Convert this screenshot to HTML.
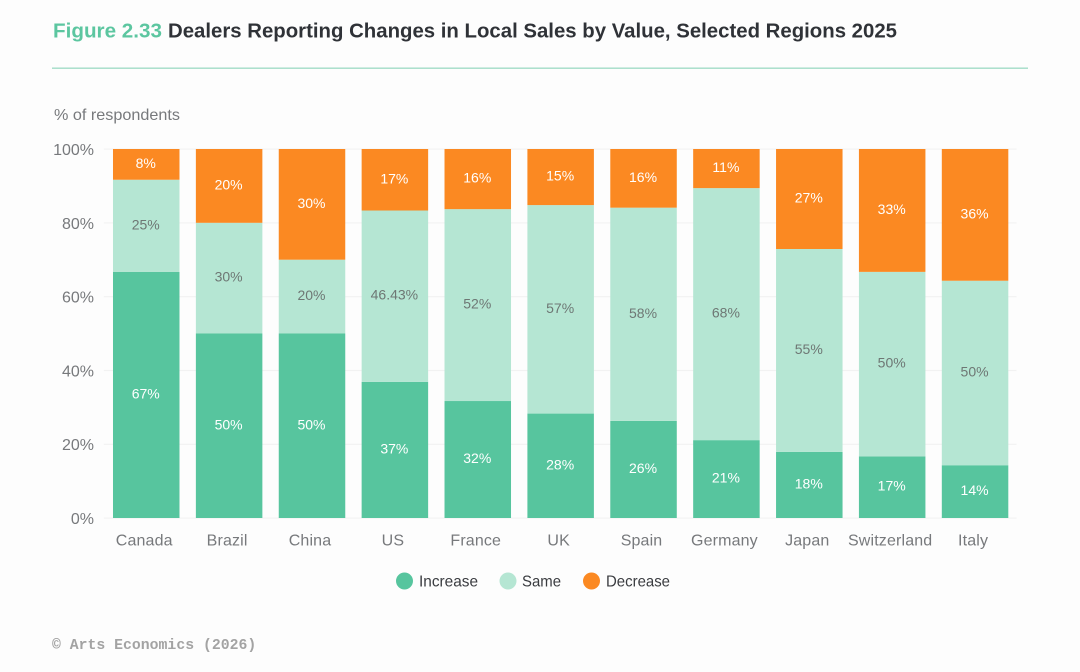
<!DOCTYPE html>
<html lang="en">
<head>
<meta charset="utf-8">
<title>Figure 2.33 Dealers Reporting Changes in Local Sales by Value</title>
<style>
html,body{margin:0;padding:0;background:#fdfdfd;}
svg{display:block;font-family:"Liberation Sans",sans-serif;}
</style>
</head>
<body>
<svg id="chart" width="1080" height="672" viewBox="0 0 1080 672" xmlns="http://www.w3.org/2000/svg">
  <rect x="0" y="0" width="1080" height="672" fill="#fdfdfd"/>
  <text x="53" y="37.5" font-size="20" font-weight="700" fill="#5cc6a0" textLength="109" lengthAdjust="spacingAndGlyphs">Figure 2.33</text>
  <text x="168" y="37.5" font-size="20" font-weight="700" fill="#2f3237" textLength="729" lengthAdjust="spacingAndGlyphs">Dealers Reporting Changes in Local Sales by Value, Selected Regions 2025</text>
  <rect x="52" y="67.5" width="976" height="1.4" fill="#a3dcc8"/>
  <text x="54" y="120" font-size="16" fill="#77797c" textLength="126" lengthAdjust="spacingAndGlyphs">% of respondents</text>
  <g id="grid"></g>
  <g id="bars"></g>
  <g id="ylabels"></g>
  <g id="xlabels"></g>
  <g>
    <g>
      <circle cx="404.5" cy="581" r="8.5" fill="#57c59e"/>
      <text x="419" y="586.5" font-size="16" fill="#3a3c40" textLength="59" lengthAdjust="spacingAndGlyphs">Increase</text>
    </g>
    <g>
      <circle cx="508" cy="581" r="8.5" fill="#b5e6d3"/>
      <text x="522" y="586.5" font-size="16" fill="#3a3c40" textLength="39" lengthAdjust="spacingAndGlyphs">Same</text>
    </g>
    <g>
      <circle cx="591.5" cy="581" r="8.5" fill="#fb8922"/>
      <text x="606" y="586.5" font-size="16" fill="#3a3c40" textLength="64" lengthAdjust="spacingAndGlyphs">Decrease</text>
    </g>
  </g>
  <text x="52" y="649" font-family="'Liberation Mono',monospace" font-size="14.8" font-weight="700" fill="#a3a3a3">© Arts Economics (2026)</text>
</svg>
<script>
const categories = ["Canada","Brazil","China","US","France","UK","Spain","Germany","Japan","Switzerland","Italy"];
const increaseValues = [66.67,50,50,36.9,31.7,28.3,26.3,21.1,17.9,16.7,14.3];
const sameValues = [25,30,20,46.43,52,56.5,57.8,68.3,55,50,50];
const decreaseValues = [8.33,20,30,16.67,16.3,15.2,15.9,10.6,27.1,33.3,35.7];
const increaseLabels = ["67%","50%","50%","37%","32%","28%","26%","21%","18%","17%","14%"];
const sameLabels = ["25%","30%","20%","46.43%","52%","57%","58%","68%","55%","50%","50%"];
const decreaseLabels = ["8%","20%","30%","17%","16%","15%","16%","11%","27%","33%","36%"];
const tickValues = [0,20,40,60,80,100];
const tickLabels = ["0%","20%","40%","60%","80%","100%"];

const NS = "http://www.w3.org/2000/svg";
const plot = {left:104.8, right:1016.5, top:149, bottom:518, barWidth:66.5};
const yScale = v => plot.bottom - (v / 100) * (plot.bottom - plot.top);
const step = (plot.right - plot.left) / categories.length;
const xCenter = i => plot.left + step * (i + 0.5);

function svgEl(tag, attrs, parent, content) {
  const el = document.createElementNS(NS, tag);
  for (const k in attrs) el.setAttribute(k, attrs[k]);
  if (content !== undefined) el.textContent = content;
  parent.appendChild(el);
  return el;
}

const gridG = document.getElementById("grid");
const yG = document.getElementById("ylabels");
tickValues.forEach((t, i) => {
  const line = svgEl("rect", {x: plot.left - 1, y: yScale(t) - 0.5, width: plot.right - plot.left + 1, height: 1.2, fill: "#f2f2f2"}, gridG);
  
  
  const lab = svgEl("text", {x: 94, y: yScale(t) + 6, "text-anchor": "end", "font-size": 16, fill: "#77797c"}, yG, tickLabels[i]);
  
  
});

const series = [
  {key: "increase", values: increaseValues, labels: increaseLabels, fill: "#57c59e", text: "#ffffff"},
  {key: "same", values: sameValues, labels: sameLabels, fill: "#b5e6d3", text: "#6e7774"},
  {key: "decrease", values: decreaseValues, labels: decreaseLabels, fill: "#fb8922", text: "#ffffff"}
];

const barsG = document.getElementById("bars");
const xG = document.getElementById("xlabels");
categories.forEach((cat, i) => {
  let base = 0;
  const cx = xCenter(i);
  series.forEach(s => {
    const v = s.values[i];
    const y0 = yScale(base);
    const y1 = yScale(base + v);
    const rect = svgEl("rect", {x: cx - plot.barWidth / 2, y: y1, width: plot.barWidth, height: y0 - y1, fill: s.fill}, barsG);
    
    
    const label = svgEl("text", {x: cx - 0.5, y: (y0 + y1) / 2 + 3.5, "text-anchor": "middle", "font-size": 14, fill: s.text}, barsG, s.labels[i]);
    
    
    base += v;
  });
  const xl = svgEl("text", {x: cx - 2, y: 545.5, "text-anchor": "middle", "font-size": 16, "letter-spacing": 0.15, fill: "#77797c"}, xG, cat);
  
  
});
</script>
</body>
</html>
